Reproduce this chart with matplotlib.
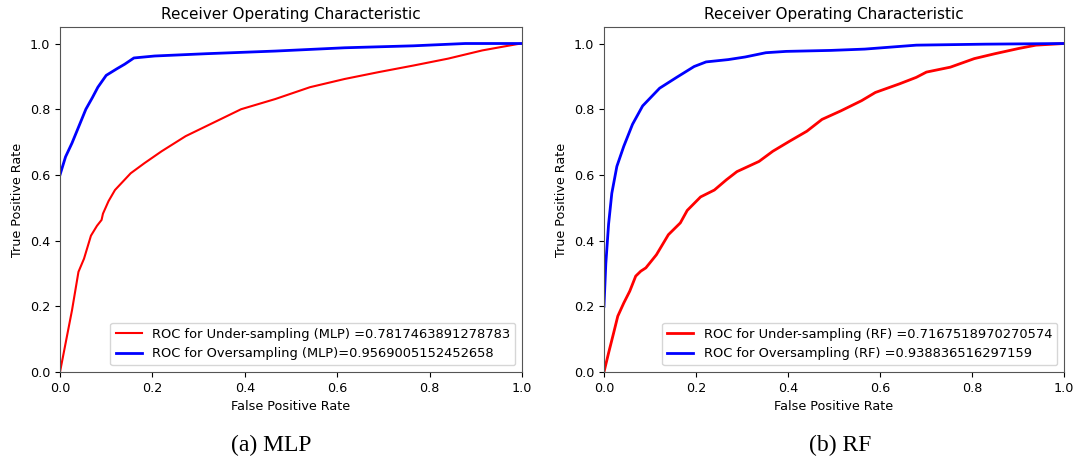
import matplotlib
matplotlib.use("Agg")
import matplotlib.pyplot as plt

# MLP curves
mlp_under_fpr = [0, 0.026, 0.04, 0.052, 0.067, 0.08, 0.09, 0.093, 0.105, 0.119, 0.135, 0.153,
                 0.183, 0.22, 0.272, 0.332, 0.392, 0.466, 0.541, 0.616, 0.69, 0.765, 0.84,
                 0.914, 0.989, 1.0]
mlp_under_tpr = [0, 0.188, 0.305, 0.345, 0.415, 0.445, 0.463, 0.482, 0.52, 0.554, 0.578, 0.605,
                 0.636, 0.672, 0.718, 0.759, 0.80, 0.831, 0.867, 0.892, 0.913, 0.933, 0.954,
                 0.979, 0.998, 1.0]
mlp_over_fpr = [0, 0.012, 0.026, 0.04, 0.056, 0.07, 0.082, 0.10, 0.123, 0.14, 0.16, 0.205,
                0.317, 0.466, 0.616, 0.765, 0.877, 1.0]
mlp_over_tpr = [0.6, 0.655, 0.697, 0.745, 0.80, 0.835, 0.867, 0.903, 0.923, 0.937, 0.956,
                0.962, 0.969, 0.977, 0.987, 0.993, 1.0, 1.0]

# RF curves
rf_under_fpr = [0, 0.01, 0.021, 0.03, 0.043, 0.056, 0.069, 0.08, 0.091, 0.114, 0.14, 0.166,
                0.181, 0.21, 0.24, 0.266, 0.289, 0.337, 0.367, 0.404, 0.441, 0.474, 0.515,
                0.56, 0.59, 0.642, 0.679, 0.701, 0.753, 0.805, 0.85, 0.902, 0.939, 1.0]
rf_under_tpr = [0, 0.058, 0.119, 0.17, 0.21, 0.246, 0.292, 0.307, 0.317, 0.357, 0.418, 0.454,
                0.492, 0.533, 0.554, 0.585, 0.61, 0.641, 0.672, 0.703, 0.733, 0.769, 0.795,
                0.826, 0.851, 0.877, 0.897, 0.913, 0.928, 0.954, 0.969, 0.985, 0.995, 1.0]
rf_over_fpr = [0, 0.004, 0.01, 0.017, 0.028, 0.043, 0.062, 0.084, 0.121, 0.158, 0.196,
               0.222, 0.27, 0.307, 0.352, 0.396, 0.493, 0.567, 0.679, 0.828, 1.0]
rf_over_tpr = [0.2, 0.33, 0.45, 0.544, 0.626, 0.687, 0.754, 0.81, 0.864, 0.897, 0.93,
               0.944, 0.951, 0.959, 0.972, 0.976, 0.979, 0.983, 0.995, 0.998, 1.0]

mlp_under_label = "ROC for Under-sampling (MLP) =0.7817463891278783"
mlp_over_label = "ROC for Oversampling (MLP)=0.9569005152452658"
rf_under_label = "ROC for Under-sampling (RF) =0.7167518970270574"
rf_over_label = "ROC for Oversampling (RF) =0.938836516297159"

fig = plt.figure(figsize=(10.77, 4.63), dpi=100)
ax1 = fig.add_axes([0.0557, 0.1965, 0.429, 0.745])
ax2 = fig.add_axes([0.5608, 0.1965, 0.4271, 0.745])

ax1.plot(mlp_under_fpr, mlp_under_tpr, color="red", lw=1.5, label=mlp_under_label)
ax1.plot(mlp_over_fpr, mlp_over_tpr, color="blue", lw=2, label=mlp_over_label)

ax2.plot(rf_under_fpr, rf_under_tpr, color="red", lw=2, label=rf_under_label)
ax2.plot(rf_over_fpr, rf_over_tpr, color="blue", lw=2, label=rf_over_label)

for ax in (ax1, ax2):
    ax.set_xlim(0, 1)
    ax.set_ylim(0, 1.05)
    ax.set_title("Receiver Operating Characteristic", fontsize=11)
    ax.set_xlabel("False Positive Rate", fontsize=9.2)
    ax.set_ylabel("True Positive Rate", fontsize=9.2)
    ax.tick_params(labelsize=9.2)
    ax.legend(loc="lower right", fontsize=9.4)
    for s in ax.spines.values():
        s.set_color("#555555")

fig.text(0.252, 0.025, "(a) MLP", fontsize=17, family="Liberation Serif", ha="center")
fig.text(0.78, 0.025, "(b) RF", fontsize=17, family="Liberation Serif", ha="center")

fig.savefig("out.png", dpi=100)
